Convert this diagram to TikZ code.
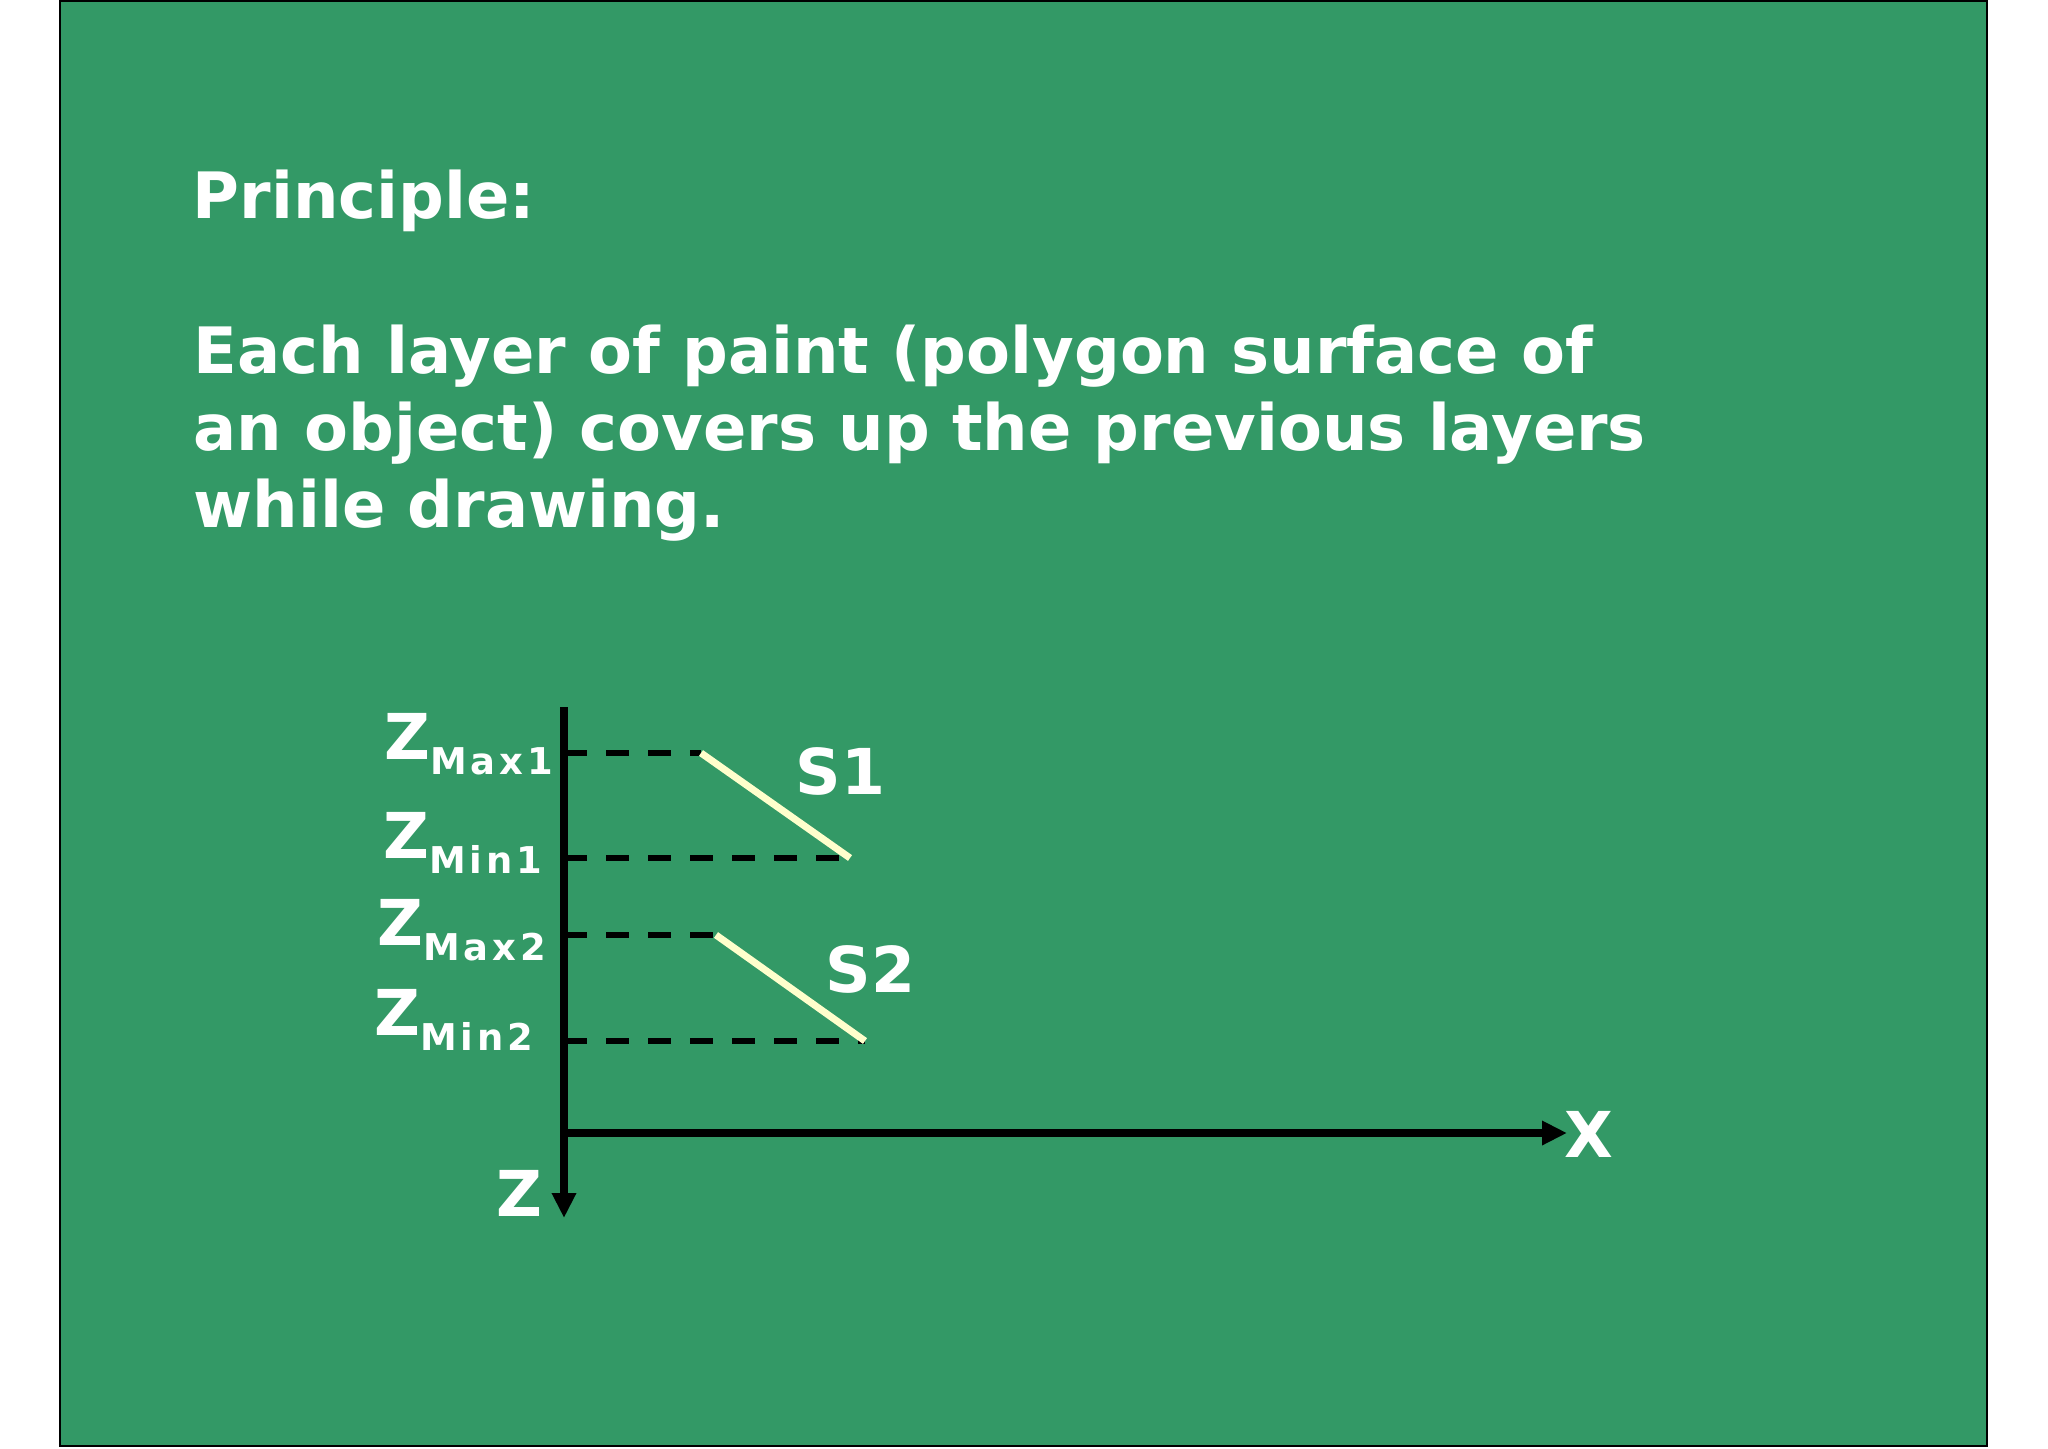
\documentclass[tikz,border=0pt]{standalone}
\usepackage{fontspec}
\setmainfont{DejaVu Sans}
\usetikzlibrary{arrows.meta}
\definecolor{slidegreen}{HTML}{339966}
\definecolor{surfcolor}{HTML}{FFFFCC}
\newcommand{\zsub}[1]{\raisebox{-1.5mm}{\fontsize{10.5}{10.5}\selectfont\addfontfeature{LetterSpace=10}#1}}

\begin{document}
\begin{tikzpicture}[x=0.1mm,y=-0.1mm,
    bigtext/.style={text=white,font=\fontsize{18.2}{22}\selectfont\bfseries,inner sep=0pt,anchor=base west},
    lbl/.style={text=white,font=\fontsize{18}{22}\selectfont\bfseries,inner sep=0pt},
    axis/.style={line width=0.75mm,-{Triangle[length=2.5mm,width=2.3mm]}},
    level/.style={line width=0.65mm,dash pattern=on 2.3mm off 1.9mm},
    surf/.style={surfcolor,line width=0.7mm}]

            % Slide
            \useasboundingbox (0,0) rectangle (2048,1448);
            \draw[fill=slidegreen,line width=0.15mm] (60,1) rectangle (1987,1446);

            % Text
            \node[bigtext] (title) at (192,219) {Principle:};
            \foreach \txt [count=\i] in {{Each layer of paint (polygon surface of},{an object) covers up the previous layers},{while drawing.}} {
                \node[bigtext] (line\i) at (193,296+77*\i) {\txt};
            }

            % Axes
            \coordinate (ztop) at (564,707);
            \coordinate (zend) at (564,1218);
            \coordinate (orig) at (564,1133);
            \coordinate (xend) at (1567,1133);

            % Surfaces
            \coordinate (s1a) at (701,753);
            \coordinate (s1b) at (850,858);
            \coordinate (s2a) at (716,935);
            \coordinate (s2b) at (865,1041);

            % Depth levels
            \foreach \p in {s1a,s1b,s2a,s2b} {
                \draw[level] (orig |- \p) -- (\p);
            }

            \draw[axis] (ztop) -- (zend);
            \draw[axis] (orig) -- (xend);

            \draw[surf] (s1a) -- (s1b);
            \draw[surf] (s2a) -- (s2b);

            % Labels
            \node[lbl,anchor=base west] (zmax1) at (384,759) {Z\zsub{Max1}};
            \node[lbl,anchor=base west] (zmin1) at (383,858) {Z\zsub{Min1}};
            \node[lbl,anchor=base west] (zmax2) at (377,945) {Z\zsub{Max2}};
            \node[lbl,anchor=base west] (zmin2) at (374,1035) {Z\zsub{Min2}};
            \node[lbl,anchor=base west] (s1) at (795,794) {S1};
            \node[lbl,anchor=base west] (s2) at (825,992) {S2};
            \node[lbl,anchor=base] (zlab) at (519,1216) {Z};
            \node[lbl,anchor=base] (xlab) at (1589,1157) {X};
\end{tikzpicture}
\end{document}
